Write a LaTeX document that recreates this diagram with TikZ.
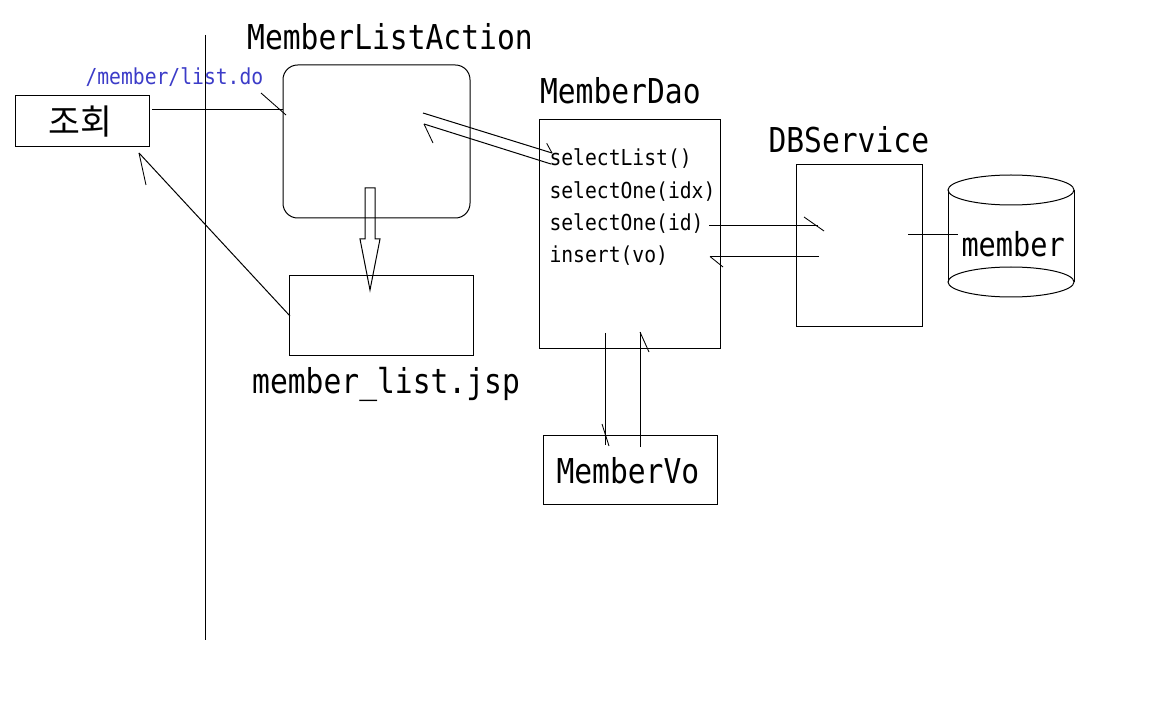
\documentclass[tikz,border=0pt]{standalone}
\usepackage{fontspec}
\newfontfamily\lblfont[FakeStretch=0.865]{DejaVu Sans Mono}
\newfontfamily\smlfont[FakeStretch=0.895]{DejaVu Sans Mono}
\newfontfamily\krfont{Noto Sans CJK KR}
\newdimen\pxu \pxu=0.75pt
\definecolor{urlblue}{RGB}{60,60,200}
\tikzset{
  every path/.style={line width=0.75pt},
  boxnode/.style={draw, line width=0.75pt, inner sep=0pt, rectangle},
  biglbl/.style={inner sep=0pt, anchor=base west, font=\lblfont\fontsize{25.7pt}{30pt}\selectfont},
  smalllbl/.style={inner sep=0pt, anchor=base west, font=\smlfont\fontsize{16.5pt}{20pt}\selectfont},
  conn/.style={line width=0.75pt},
  barb/.style={line width=0.65pt},
}
\begin{document}
\begin{tikzpicture}[x=0.75pt,y=-0.75pt]
\useasboundingbox (0,0) rectangle (1171,727);
% vertical divider
\coordinate (vtop) at (205.7,35);
\coordinate (vbot) at (205.7,640);
\draw[conn] (vtop) -- (vbot);

% boxes
\node[boxnode, minimum width=134\pxu, minimum height=51\pxu] (jo) at (82.3,121.5) {};
\node[inner sep=0pt, font=\krfont\fontsize{26pt}{30pt}\selectfont] (jotxt) at (80.5,121.5) {조회};
\node[boxnode, rounded corners=11pt, minimum width=187\pxu, minimum height=153\pxu] (mla) at (376.5,141.5) {};
\node[boxnode, minimum width=184\pxu, minimum height=79\pxu] (jsp) at (381,315.5) {};
\node[boxnode, minimum width=181\pxu, minimum height=228\pxu] (dao) at (630,234) {};
\node[boxnode, minimum width=126\pxu, minimum height=162\pxu] (dbs) at (859,246) {};
\node[boxnode, minimum width=174\pxu, minimum height=69\pxu] (vo) at (630.5,470.3) {};

% cylinder
\node[minimum width=126\pxu, minimum height=122\pxu, inner sep=0pt] (db) at (1011,236) {};
\draw (1011,190) ellipse [x radius=63, y radius=15];
\draw (1011,282) ellipse [x radius=63, y radius=15];
\draw (948,190) -- (948,282);
\draw (1074,190) -- (1074,282);

% labels
\node[biglbl] (lmla) at (246.7,50) {MemberListAction};
\node[biglbl] (ldao) at (539.5,104) {MemberDao};
\node[biglbl] (ldbs) at (768,153) {DBService};
\node[biglbl] (ljsp) at (251.7,393) {member\_list.jsp};
\node[biglbl] (lvo) at (556,483) {MemberVo};
\node[biglbl, font=\lblfont\fontsize{24.8pt}{30pt}\selectfont] (lmem) at (961,257) {member};
\node[smalllbl, text=urlblue] (lurl) at (85,85) {/member/list.do};
\node[smalllbl] (m1) at (549,165.7) {selectList()};
\node[smalllbl] (m2) at (549,199) {selectOne(idx)};
\node[smalllbl] (m3) at (549,231) {selectOne(id)};
\node[smalllbl] (m4) at (549,263) {insert(vo)};

% connector endpoints
\coordinate (c1s) at (152,110);
\coordinate (c1e) at (283,110);
\coordinate (c2s) at (290,316);
\coordinate (c2e) at (139,153);
\coordinate (c3s) at (423,113);
\coordinate (c3e) at (552,153);
\coordinate (c4s) at (551,164);
\coordinate (c4e) at (424,124);
\coordinate (c5s) at (709,226);
\coordinate (c5e) at (818,226);
\coordinate (c6s) at (819,256.5);
\coordinate (c6e) at (710,256.5);
\coordinate (c7s) at (908,235);
\coordinate (c7e) at (958,235);
\coordinate (c8s) at (605.7,333);
\coordinate (c8e) at (605.7,445);
\coordinate (c9s) at (640,447);
\coordinate (c9e) at (640,332);

\draw[conn] (c1s) -- (c1e);
\draw[barb] (261,93) -- (286,115);
\draw[conn] (c2s) -- (c2e);
\draw[barb] (c2e) -- (146,185);
\draw[conn] (c3s) -- (c3e);
\draw[barb] (546.7,143.3) -- (c3e);
\draw[conn] (c4s) -- (c4e);
\draw[barb] (c4e) -- (433,143);
\draw[conn] (c5s) -- (c5e);
\draw[barb] (804,217) -- (824,231);
\draw[conn] (c6s) -- (c6e);
\draw[barb] (c6e) -- (723,267);
\draw[conn] (c7s) -- (c7e);
\draw[conn] (c8s) -- (c8e);
\draw[barb] (602,424) -- (609,446);
\draw[conn] (c9s) -- (c9e);
\draw[barb] (c9e) -- (649,352);

% hollow block arrow from action to jsp
\draw[line width=0.75pt] (365,188) -- (375,188) -- (375,239) -- (380,239) -- (370,290) -- (360,239) -- (365,239) -- cycle;
\end{tikzpicture}
\end{document}
